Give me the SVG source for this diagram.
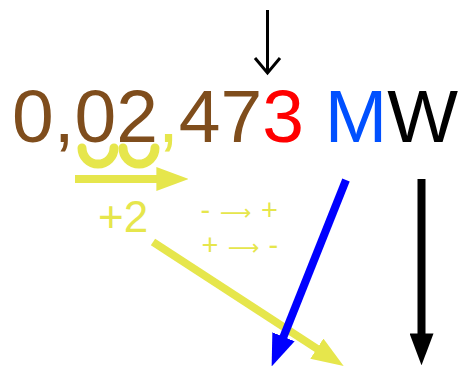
<svg xmlns="http://www.w3.org/2000/svg" width="458" height="372" viewBox="0 0 458 372">
<style>
.main{font-family:"Liberation Sans",Arial,sans-serif;font-size:75px}
.brown{fill:#7f4d1c}
.yel{fill:#e6e64c}
.red{fill:#ff0000}
.mblue{fill:#0050ff}
.blk{fill:#000}
.ytext{font-family:"Liberation Sans",Arial,sans-serif;fill:#e6e64c}
.arr{font-family:"DejaVu Sans",sans-serif;font-size:22px}
.big{stroke-width:8;fill:none}
</style>
<defs>
<marker id="hy" viewBox="0 0 4 3" refX="0.2" refY="1.5" markerWidth="4" markerHeight="3" orient="auto" markerUnits="strokeWidth"><path d="M0,0 L4,1.5 L0,3 z" fill="#e6e64c"/></marker>
<marker id="hb" viewBox="0 0 4 3" refX="0.2" refY="1.5" markerWidth="4" markerHeight="3" orient="auto" markerUnits="strokeWidth"><path d="M0,0 L4,1.5 L0,3 z" fill="#0000ff"/></marker>
<marker id="hk" viewBox="0 0 4 3" refX="0.2" refY="1.5" markerWidth="4" markerHeight="3" orient="auto" markerUnits="strokeWidth"><path d="M0,0 L4,1.5 L0,3 z" fill="#000"/></marker>
</defs>
<g id="number">
<text class="main" x="12" y="142"><tspan class="brown">0,02</tspan><tspan class="yel">,</tspan><tspan class="brown">47</tspan><tspan class="red">3</tspan><tspan> </tspan><tspan class="mblue">M</tspan><tspan class="blk">W</tspan></text>
</g>
<g id="cups" fill="none" stroke="#e6e64c" stroke-width="9" stroke-linecap="round">
<path d="M82,148 A16,16 0 0 0 114,148"/>
<path d="M123,148 A16,16 0 0 0 155,148"/>
</g>
<g id="plus2"><text class="ytext" x="98" y="232" font-size="44">+2</text></g>
<g id="signs">
<text class="ytext" font-size="29" y="220"><tspan x="200.5">-</tspan><tspan class="arr" x="220">⟶</tspan><tspan x="261">+</tspan></text>
<text class="ytext" font-size="29" y="255"><tspan x="201.5">+</tspan><tspan class="arr" x="228">⟶</tspan><tspan x="268.5">-</tspan></text>
</g>
<g id="connectors">
<path d="M267.5,10 V72" stroke="#000" stroke-width="3" fill="none"/>
<path d="M255,58 L267.5,73 L280,58" stroke="#000" stroke-width="3" fill="none"/>
<path class="big" d="M75,179 H158" stroke="#e6e64c" marker-end="url(#hy)"/>
<path class="big" d="M153,242 L318.2,349.5" stroke="#e6e64c" marker-end="url(#hy)"/>
<path class="big" d="M346,180 L282.9,338.3" stroke="#0000ff" marker-end="url(#hb)"/>
<path class="big" d="M421.5,179 V335" stroke="#000" marker-end="url(#hk)"/>
</g>
</svg>
